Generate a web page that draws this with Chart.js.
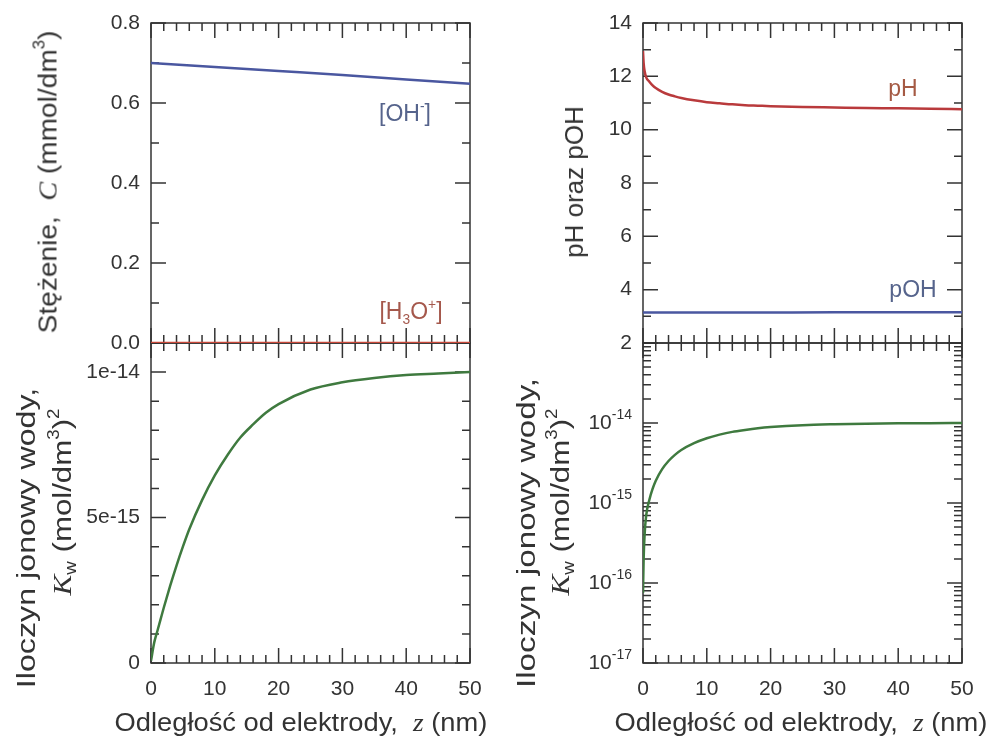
<!DOCTYPE html>
<html lang="pl">
<head>
<meta charset="utf-8">
<script src="https://cdn.jsdelivr.net/npm/chart.js@4.4.1/dist/chart.umd.min.js"></script>
<style>
  body { margin: 0; background: #fff; width: 987px; height: 742px; position: relative; overflow: hidden;
         font-family: "Liberation Sans", Arial, sans-serif; color: #333; }
  canvas { position: absolute; }
  .lbl { position: absolute; white-space: nowrap; line-height: 1; transform: translate(-50%, -50%); }
  .title { font-size: 26px; }
  .it { font-family: "Liberation Serif", serif; font-style: italic; }
  .sup { font-size: 0.6em; position: relative; top: -0.75em; }
  .sub { font-size: 0.6em; position: relative; top: 0.35em; }
  .tag { font-size: 23px; }
</style>
</head>
<body>
<canvas id="kwLin" width="490" height="406" style="left:0;top:336px"></canvas>
<canvas id="kwLog" width="487" height="406" style="left:500px;top:336px"></canvas>
<canvas id="conc" width="490" height="362" style="left:0;top:0"></canvas>
<canvas id="ph" width="487" height="362" style="left:500px;top:0"></canvas>

<div class="lbl title" style="left:48px;top:182px;transform:translate(-50%,-50%) rotate(-90deg) scaleX(1.08)">Stężenie,&nbsp; <span class="it">C</span> (mmol/dm<span class="sup">3</span>)</div>
<div class="lbl title" style="left:26px;top:538px;transform:translate(-50%,-50%) rotate(-90deg) scaleX(1.24)">Iloczyn jonowy wody,</div>
<div class="lbl title" style="left:62px;top:502px;transform:translate(-50%,-50%) rotate(-90deg) scaleX(1.2)"><span class="it">K</span><span class="sub">w</span> (mol/dm<span class="sup">3</span>)<span class="sup">2</span></div>
<div class="lbl title" style="left:574px;top:182px;transform:translate(-50%,-50%) rotate(-90deg)">pH oraz pOH</div>
<div class="lbl title" style="left:526px;top:533px;transform:translate(-50%,-50%) rotate(-90deg) scaleX(1.28)">Iloczyn jonowy wody,</div>
<div class="lbl title" style="left:560px;top:502px;transform:translate(-50%,-50%) rotate(-90deg) scaleX(1.2)"><span class="it">K</span><span class="sub">w</span> (mol/dm<span class="sup">3</span>)<span class="sup">2</span></div>
<div class="lbl title" style="left:301px;top:722px;transform:translate(-50%,-50%) scaleX(1.05)">Odległość od elektrody,&nbsp; <span class="it">z</span> (nm)</div>
<div class="lbl title" style="left:801px;top:722px;transform:translate(-50%,-50%) scaleX(1.05)">Odległość od elektrody,&nbsp; <span class="it">z</span> (nm)</div>

<div class="lbl tag" style="left:405px;top:113px;color:#56648c">[OH<span class="sup">-</span>]</div>
<div class="lbl tag" style="left:411px;top:311px;color:#a5584c">[H<span class="sub">3</span>O<span class="sup">+</span>]</div>
<div class="lbl tag" style="left:903px;top:88px;color:#a55a44">pH</div>
<div class="lbl tag" style="left:913px;top:289px;color:#56648c">pOH</div>

<script>
// odleglosc od elektrody z (nm)
const zConc = [0, 10, 20, 30, 40, 50]
const ohValues = [0.700, 0.690, 0.680, 0.670, 0.659, 0.648]     // mmol/dm3
const h3oValues = [0, 0, 0, 0, 0, 0]                              // mmol/dm3
const pohValues = [3.14, 3.14, 3.145, 3.15, 3.15, 3.155]

const zKw = [0, 0.1, 0.25, 0.5, 1, 1.5, 2, 3, 4, 5, 6, 8, 10, 12, 14, 16, 18, 20, 25, 30, 35, 40, 45, 50]
const kwValues = [0.075e-15, 0.2e-15, 0.4e-15, 0.7e-15, 1.1e-15, 1.5e-15, 1.9e-15, 2.65e-15, 3.35e-15, 4.0e-15,
  4.6e-15, 5.6e-15, 6.45e-15, 7.15e-15, 7.75e-15, 8.2e-15, 8.6e-15, 8.9e-15, 9.4e-15, 9.65e-15,
  9.8e-15, 9.9e-15, 9.95e-15, 1.0e-14]
const phValues = [12.95, 12.5, 12.2, 11.96, 11.8, 11.66, 11.56, 11.42, 11.32, 11.25, 11.19, 11.1, 11.03,
  10.99, 10.95, 10.92, 10.9, 10.88, 10.85, 10.83, 10.81, 10.8, 10.78, 10.77]

// osie
const zTicks = [0, 10, 20, 30, 40, 50]
const zMinor = [2, 4, 6, 8, 12, 14, 16, 18, 22, 24, 26, 28, 32, 34, 36, 38, 42, 44, 46, 48]
const concTicks = [0, 0.2, 0.4, 0.6, 0.8]
const concMinor = [0.1, 0.3, 0.5, 0.7]
const kwLinTicks = [0, 5e-15, 1e-14]
const kwLinTickLabels = ['0', '5e-15', '1e-14']
const kwLinMinor = [1e-15, 2e-15, 3e-15, 4e-15, 6e-15, 7e-15, 8e-15, 9e-15]
const phTicks = [2, 4, 6, 8, 10, 12, 14]
const phMinor = [3, 5, 7, 9, 11, 13]
const kwLogTicks = [1e-17, 1e-16, 1e-15, 1e-14, 1e-13]
const kwLogLabelTicks = [1e-17, 1e-16, 1e-15, 1e-14]

const FONT = '"Liberation Sans", Arial, sans-serif'
const INK = '#333'

function points(xs, ys) {
  return xs.map((x, i) => ({x: x, y: ys[i]}))
}

// ramka z kreskami skierowanymi do srodka
const framePlugin = {
  id: 'frame',
  beforeDatasetsDraw(chart, args, opts) {
    const {ctx, chartArea: a, scales} = chart
    ctx.save()
    ctx.strokeStyle = INK
    ctx.lineWidth = 1.5
    ctx.strokeRect(a.left, a.top, a.right - a.left, a.bottom - a.top)
    ctx.beginPath()
    const xMarks = [[opts.xMajor, 15], [opts.xMinor, 8]]
    xMarks.forEach(([vals, len]) => vals.forEach(v => {
      const px = scales.x.getPixelForValue(v)
      ctx.moveTo(px, a.bottom); ctx.lineTo(px, a.bottom - len)
      ctx.moveTo(px, a.top); ctx.lineTo(px, a.top + len)
    }))
    let yMarks = [[opts.yMajor, 15], [opts.yMinor || [], 8]]
    if (opts.logMinor) {
      const minor = []
      opts.yMajor.slice(0, -1).forEach(d => [2, 3, 4, 5, 6, 7, 8, 9].forEach(m => minor.push(d * m)))
      yMarks = [[opts.yMajor, 15], [minor, 8]]
    }
    yMarks.forEach(([vals, len]) => vals.forEach(v => {
      const py = scales.y.getPixelForValue(v)
      ctx.moveTo(a.left, py); ctx.lineTo(a.left + len, py)
      ctx.moveTo(a.right, py); ctx.lineTo(a.right - len, py)
    }))
    ctx.stroke()
    ctx.restore()
  },
  afterDraw(chart, args, opts) {
    if (!opts.logLabels) return
    const {ctx, chartArea: a, scales} = chart
    ctx.save()
    ctx.fillStyle = INK
    ctx.textBaseline = 'middle'
    opts.logLabels.forEach(v => {
      const py = scales.y.getPixelForValue(v)
      const exp = String(Math.round(Math.log10(v)))
      ctx.font = `14px ${FONT}`
      const expW = ctx.measureText(exp).width
      ctx.textAlign = 'right'
      ctx.fillText(exp, a.left - 11, py - 8)
      ctx.font = `21px ${FONT}`
      ctx.fillText('10', a.left - 11 - expW, py)
    })
    ctx.restore()
  }
}

function makeChart(id, datasets, o) {
  return new Chart(document.getElementById(id), {
    type: 'line',
    data: {datasets: datasets},
    options: {
      responsive: false,
      animation: false,
      events: [],
      layout: {padding: o.padding},
      elements: {point: {radius: 0}, line: {borderWidth: 2.5, cubicInterpolationMode: 'monotone'}},
      plugins: {
        legend: {display: false},
        tooltip: {enabled: false},
        frame: o.frame
      },
      scales: {
        x: {
          type: 'linear', min: 0, max: 50,
          display: o.showX,
          afterBuildTicks: s => { s.ticks = zTicks.map(v => ({value: v})) },
          afterFit: s => {
            s.height = o.showX ? 50 : 0
            s.paddingLeft = 0
            s.paddingRight = 0
          },
          grid: {display: false, drawTicks: false},
          border: {display: false},
          ticks: {padding: 14, color: INK, font: {family: FONT, size: 21}, maxRotation: 0, autoSkip: false}
        },
        y: {
          type: o.yType, min: o.yMin, max: o.yMax,
          afterBuildTicks: s => { s.ticks = o.yTicks.map(v => ({value: v})) },
          afterFit: s => {
            s.width = o.yWidth
            s.paddingTop = 0
            s.paddingBottom = 0
          },
          grid: {display: false, drawTicks: false},
          border: {display: false},
          ticks: {display: o.yLabels, padding: 11, color: INK, font: {family: FONT, size: 21},
                  autoSkip: false, callback: o.yFormat}
        }
      }
    },
    plugins: [framePlugin]
  })
}

makeChart('conc', [
  {data: points(zConc, ohValues), borderColor: '#4a57a0'},
  {data: points(zConc, h3oValues), borderColor: '#c9483a'}
], {
  padding: {top: 23, right: 20, bottom: 19, left: 0},
  showX: false, yType: 'linear', yMin: 0, yMax: 0.8, yWidth: 151,
  yTicks: concTicks, yLabels: true, yFormat: v => v.toFixed(1),
  frame: {xMajor: zTicks, xMinor: zMinor, yMajor: concTicks, yMinor: concMinor}
})

makeChart('kwLin', [
  {data: points(zKw, kwValues), borderColor: '#3f7a3f'}
], {
  padding: {top: 7, right: 20, bottom: 29, left: 0},
  showX: true, yType: 'linear', yMin: 0, yMax: 1.1e-14, yWidth: 151,
  yTicks: kwLinTicks, yLabels: true, yFormat: (v, i) => kwLinTickLabels[i],
  frame: {xMajor: zTicks, xMinor: zMinor, yMajor: kwLinTicks, yMinor: kwLinMinor}
})

makeChart('ph', [
  {data: points(zKw, phValues), borderColor: '#b93a3c'},
  {data: points(zConc, pohValues), borderColor: '#4a57a0'}
], {
  padding: {top: 23, right: 25, bottom: 19, left: 0},
  showX: false, yType: 'linear', yMin: 2, yMax: 14, yWidth: 143,
  yTicks: phTicks, yLabels: true, yFormat: v => String(v),
  frame: {xMajor: zTicks, xMinor: zMinor, yMajor: phTicks, yMinor: phMinor}
})

makeChart('kwLog', [
  {data: points(zKw, kwValues), borderColor: '#3f7a3f'}
], {
  padding: {top: 7, right: 25, bottom: 29, left: 0},
  showX: true, yType: 'logarithmic', yMin: 1e-17, yMax: 1e-13, yWidth: 143,
  yTicks: kwLogTicks, yLabels: false,
  frame: {xMajor: zTicks, xMinor: zMinor, yMajor: kwLogTicks, logMinor: true, logLabels: kwLogLabelTicks}
})
</script>
</body>
</html>
